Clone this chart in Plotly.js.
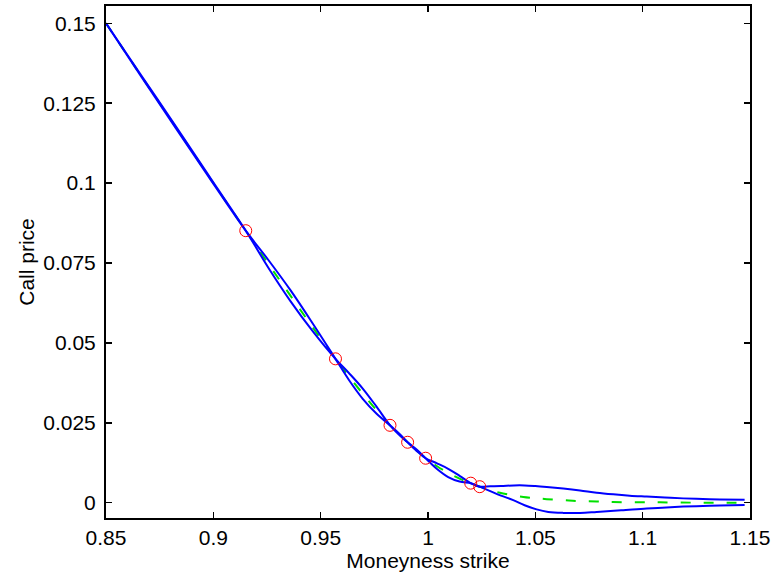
<!DOCTYPE html>
<html>
<head>
<meta charset="utf-8">
<script src="https://cdn.plot.ly/plotly-3.0.1.min.js"></script>
<style>html,body{margin:0;padding:0;background:#fff;}#chart{width:776px;height:578px;}</style>
</head>
<body>
<div id="chart"></div>
<script>
// Observed option quotes (moneyness strike, call price)
const quoteStrikes = [0.9151, 0.9569, 0.9823, 0.9905, 0.9989, 1.0199, 1.0241];
const quotePrices  = [0.0851, 0.0450, 0.0242, 0.0189, 0.0139, 0.0061, 0.0050];

// Central fitted curve (green dashed)
const fitStrikes = [0.85, 0.8663, 0.8826, 0.8988, 0.9151, 0.92555, 0.9360, 0.94645, 0.9569, 0.96325, 0.9696, 0.97595, 0.9823, 0.9864, 0.9905, 0.9947, 0.9989, 1.0042, 1.0094, 1.0147, 1.0199, 1.0220, 1.0241, 1.0289, 1.0335, 1.0390, 1.0444, 1.0500, 1.0553, 1.0630, 1.0700, 1.0786, 1.0863, 1.0970, 1.1081, 1.1250, 1.1475];
const fitPrices  = [0.1500, 0.1336, 0.1174, 0.1012, 0.0851, 0.0748, 0.0647, 0.0547, 0.0450, 0.0394, 0.0341, 0.0290, 0.0242, 0.0215, 0.0189, 0.0164, 0.0139, 0.0114, 0.0093, 0.0075, 0.0061, 0.0055, 0.0050, 0.0039, 0.0031, 0.0024, 0.0018, 0.0014, 0.0011, 0.0008, 0.0005, 0.0004, 0.0002, 0.0001, 0.0001, 0.0000, 0.0000];

// Bound curve A (blue)
const boundAStrikes = [0.85, 0.8663, 0.8826, 0.8988, 0.9151, 0.92555, 0.9360, 0.94645, 0.9569, 0.96325, 0.9696, 0.97595, 0.9823, 0.9864, 0.9905, 0.9947, 0.9989, 1.0042, 1.0094, 1.0147, 1.0199, 1.0220, 1.0241, 1.0290, 1.0340, 1.0400, 1.0450, 1.0500, 1.0553, 1.0630, 1.0708, 1.0786, 1.0863, 1.0940, 1.1019, 1.1130, 1.1250, 1.1360, 1.1475];
const boundAPrices  = [0.1500, 0.1334, 0.1171, 0.1010, 0.0851, 0.0760, 0.0664, 0.0559, 0.0450, 0.0383, 0.0325, 0.0279, 0.0242, 0.0217, 0.0189, 0.0162, 0.0139, 0.0123, 0.0106, 0.0084, 0.0061, 0.0054, 0.0050, 0.0051, 0.0052, 0.0054, 0.0054, 0.0052, 0.0049, 0.0044, 0.0038, 0.0031, 0.0026, 0.0022, 0.0019, 0.0015, 0.0012, 0.0010, 0.0009];

// Bound curve B (blue)
const boundBStrikes = [0.85, 0.8663, 0.8826, 0.8988, 0.9151, 0.92555, 0.9360, 0.94645, 0.9569, 0.96325, 0.9696, 0.97595, 0.9823, 0.9864, 0.9905, 0.9947, 0.9989, 1.0042, 1.0094, 1.0147, 1.0199, 1.0220, 1.0241, 1.0290, 1.0340, 1.0397, 1.0450, 1.0506, 1.0560, 1.0630, 1.0708, 1.0786, 1.0900, 1.1019, 1.1130, 1.1250, 1.1360, 1.1475];
const boundBPrices  = [0.1500, 0.1338, 0.1177, 0.1014, 0.0851, 0.0736, 0.0630, 0.0535, 0.0450, 0.0405, 0.0357, 0.0301, 0.0242, 0.0213, 0.0189, 0.0166, 0.0139, 0.0105, 0.0080, 0.0066, 0.0061, 0.0056, 0.0050, 0.0036, 0.0022, 0.0008, -0.0008, -0.0021, -0.0029, -0.0032, -0.0032, -0.0029, -0.0024, -0.0018, -0.0014, -0.0011, -0.0009, -0.0007];

const xTickVals = [0.85, 0.9, 0.95, 1, 1.05, 1.1, 1.15];
const xTickText = ['0.85', '0.9', '0.95', '1', '1.05', '1.1', '1.15'];
const yTickVals = [0, 0.025, 0.05, 0.075, 0.1, 0.125, 0.15];
const yTickText = ['0', '0.025', '0.05', '0.075', '0.1', '0.125', '0.15'];

const FONT = 'Liberation Sans, Arial, Helvetica, sans-serif';

const traces = [
  {x: fitStrikes, y: fitPrices, mode: 'lines', type: 'scatter',
   line: {color: '#00e000', width: 2, dash: '10px,13px', shape: 'spline', smoothing: 1}, hoverinfo: 'skip'},
  {x: boundAStrikes, y: boundAPrices, mode: 'lines', type: 'scatter',
   line: {color: '#0000ff', width: 2, shape: 'spline', smoothing: 1}, hoverinfo: 'skip'},
  {x: boundBStrikes, y: boundBPrices, mode: 'lines', type: 'scatter',
   line: {color: '#0000ff', width: 2, shape: 'spline', smoothing: 1}, hoverinfo: 'skip'},
  {x: quoteStrikes, y: quotePrices, mode: 'markers', type: 'scatter',
   marker: {symbol: 'circle-open', size: 12, color: '#ff0000', line: {width: 1, color: '#ff0000'}}, hoverinfo: 'skip'}
];

const axisCommon = {
  showgrid: false, zeroline: false, showline: true, mirror: 'ticks',
  linecolor: '#000', linewidth: 2, ticks: 'inside', ticklen: 6, tickwidth: 1.5, tickcolor: '#000',
  tickfont: {family: FONT, size: 21, color: '#000'}
};

const layout = {
  width: 776, height: 578,
  margin: {l: 106, r: 26, t: 6, b: 60},
  paper_bgcolor: '#fff', plot_bgcolor: '#fff',
  showlegend: false,
  font: {family: FONT, color: '#000'},
  xaxis: Object.assign({}, axisCommon, {
    range: [0.85, 1.15], tickmode: 'array', tickvals: xTickVals, ticktext: xTickText,
    ticklabelstandoff: 0,
    title: {text: 'Moneyness strike', font: {family: FONT, size: 21, color: '#000'}, standoff: 4}
  }),
  yaxis: Object.assign({}, axisCommon, {
    range: [-0.0048, 0.1554], tickmode: 'array', tickvals: yTickVals, ticktext: yTickText,
    ticklabelstandoff: 4,
    title: {text: 'Call price', font: {family: FONT, size: 21, color: '#000'}, standoff: 3}
  })
};

Plotly.newPlot('chart', traces, layout, {displayModeBar: false, staticPlot: true});
</script>
</body>
</html>
